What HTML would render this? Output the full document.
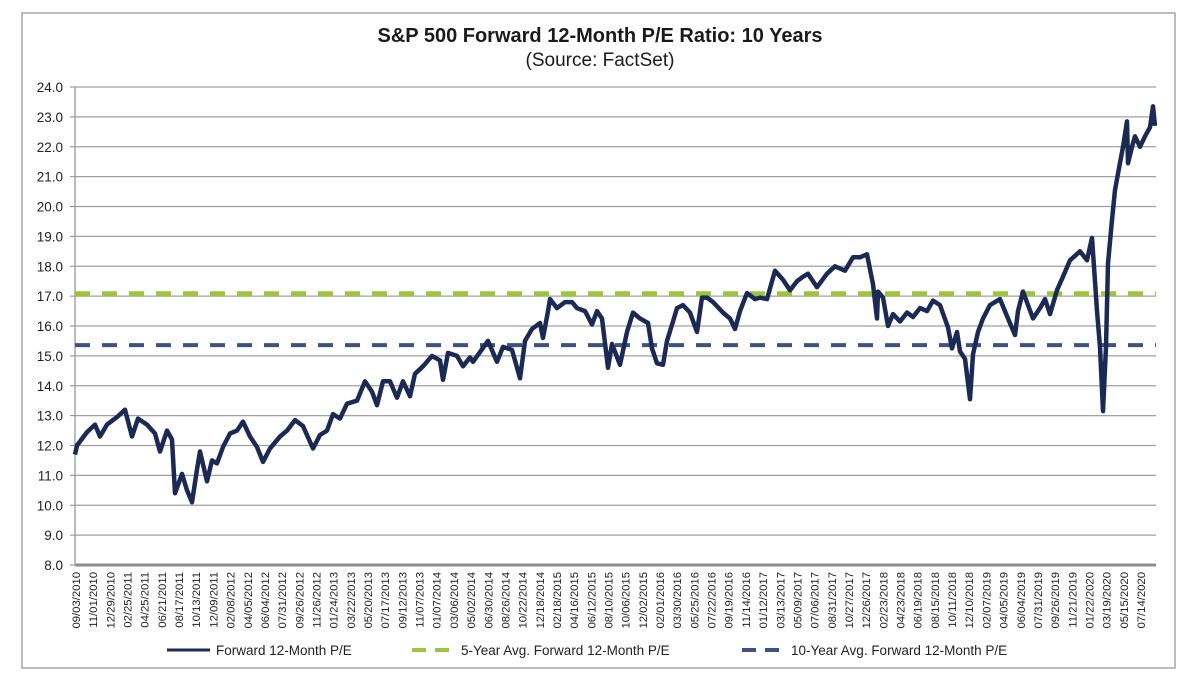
<!DOCTYPE html>
<html><head><meta charset="utf-8"><title>S&amp;P 500 Forward 12-Month P/E Ratio</title>
<style>
html,body{margin:0;padding:0;background:#fff;}
svg{display:block;font-family:"Liberation Sans",Arial,sans-serif;}
</style></head>
<body>
<svg id="chart" width="1200" height="688" viewBox="0 0 1200 688">
  <rect x="22" y="13" width="1153" height="655" fill="#fff" stroke="#a6a6a6" stroke-width="1.5"/>
  <text x="600" y="42" text-anchor="middle" font-size="20" font-weight="bold" fill="#1a1a1a">S&amp;P 500 Forward 12-Month P/E Ratio: 10 Years</text>
  <text x="600" y="66" text-anchor="middle" font-size="19" fill="#1a1a1a">(Source: FactSet)</text>
  <g id="grid"></g>
  <g id="yaxis"></g>
  <g id="xaxis"></g>
  <g id="series"></g>
  <g id="legend"></g>
</svg>
<script>
// ---- data ----
const yTicks = [8,9,10,11,12,13,14,15,16,17,18,19,20,21,22,23,24];
const dateLabels = ["09/03/2010","11/01/2010","12/29/2010","02/25/2011","04/25/2011","06/21/2011","08/17/2011","10/13/2011","12/09/2011","02/08/2012","04/05/2012","06/04/2012","07/31/2012","09/26/2012","11/26/2012","01/24/2013","03/22/2013","05/20/2013","07/17/2013","09/12/2013","11/07/2013","01/07/2014","03/06/2014","05/02/2014","06/30/2014","08/26/2014","10/22/2014","12/18/2014","02/18/2015","04/16/2015","06/12/2015","08/10/2015","10/06/2015","12/02/2015","02/01/2016","03/30/2016","05/25/2016","07/22/2016","09/19/2016","11/14/2016","01/12/2017","03/13/2017","05/09/2017","07/06/2017","08/31/2017","10/27/2017","12/26/2017","02/23/2018","04/23/2018","06/19/2018","08/15/2018","10/11/2018","12/10/2018","02/07/2019","04/05/2019","06/04/2019","07/31/2019","09/26/2019","11/21/2019","01/22/2020","03/19/2020","05/15/2020","07/14/2020"];
// observation index (sample number along the time axis) and forward P/E values
const obsIdx = [0,2,12,20,25,32,42,50,57,63,72,80,85,92,97,100,107,112,117,122,125,132,137,142,148,155,162,168,175,182,188,195,205,212,220,228,238,245,252,258,265,272,282,290,297,302,308,315,322,328,335,340,348,357,365,368,373,382,388,395,398,413,422,428,437,445,450,457,465,468,473,475,482,490,497,502,510,517,522,527,533,537,545,552,558,565,573,577,582,588,592,598,602,608,615,622,627,632,638,648,655,660,665,672,680,685,692,700,708,715,722,728,733,742,752,760,770,778,785,792,798,802,803,808,813,818,825,832,838,845,852,858,865,873,877,882,885,890,895,898,903,908,915,925,933,940,943,948,958,965,970,975,982,988,995,1005,1012,1017,1020,1022,1025,1028,1031,1033,1037,1040,1043,1048,1052,1053,1057,1060,1065,1070,1075,1078,1080];
const peValues = [11.7,12.0,12.45,12.7,12.3,12.7,12.95,13.2,12.3,12.9,12.7,12.4,11.8,12.5,12.2,10.4,11.05,10.5,10.1,11.2,11.8,10.8,11.5,11.4,11.95,12.4,12.5,12.8,12.3,11.95,11.45,11.9,12.3,12.5,12.85,12.65,11.9,12.35,12.5,13.05,12.9,13.4,13.5,14.15,13.8,13.35,14.15,14.15,13.6,14.15,13.65,14.4,14.65,15.0,14.85,14.2,15.1,15.0,14.65,14.95,14.8,15.5,14.8,15.3,15.2,14.25,15.5,15.9,16.1,15.6,16.5,16.9,16.6,16.8,16.8,16.6,16.5,16.05,16.5,16.25,14.6,15.4,14.7,15.8,16.45,16.25,16.1,15.25,14.75,14.7,15.5,16.15,16.6,16.7,16.45,15.8,16.95,16.95,16.8,16.45,16.25,15.9,16.5,17.1,16.9,16.95,16.9,17.85,17.55,17.2,17.5,17.65,17.75,17.3,17.75,18.0,17.85,18.3,18.3,18.4,17.4,16.25,17.15,16.95,16.0,16.4,16.15,16.45,16.3,16.6,16.5,16.85,16.7,15.95,15.25,15.8,15.15,14.9,13.55,15.05,15.8,16.25,16.7,16.9,16.25,15.7,16.5,17.15,16.25,16.6,16.9,16.4,17.2,17.65,18.2,18.5,18.2,18.95,17.5,16.5,15.3,13.15,15.3,18.1,19.55,20.55,21.1,22.0,22.85,21.45,22.0,22.35,22.0,22.35,22.65,23.35,22.7];
const avg5Year = 17.08;
const avg10Year = 15.36;
const seriesNames = ["Forward 12-Month P/E","5-Year Avg. Forward 12-Month P/E","10-Year Avg. Forward 12-Month P/E"];

// ---- layout ----
const NS = "http://www.w3.org/2000/svg";
const plot = {left:75, right:1156, top:87, bottom:565};
const obsMax = 1081;
function xScale(i){ return plot.left + i/obsMax*(plot.right-plot.left); }
function yScale(v){ return plot.bottom - (v-8)/(24-8)*(plot.bottom-plot.top); }
function labelX(k){ return 76 + k*(1141-76)/(dateLabels.length-1); }
function mk(tag, attrs, parent){
  const e = document.createElementNS(NS, tag);
  for (const k in attrs) e.setAttribute(k, attrs[k]);
  parent.appendChild(e);
  return e;
}
const grid = document.getElementById('grid');
const yaxis = document.getElementById('yaxis');
const xaxis = document.getElementById('xaxis');
const series = document.getElementById('series');
const legend = document.getElementById('legend');

yTicks.forEach(t => {
  const y = yScale(t);
  if (t > 8) {
    const ln = mk('line', {x1:plot.left, x2:plot.right, y1:y, y2:y, stroke:'#a0a0a0', 'stroke-width':1.3}, grid);
    
    
  }
  const tk = mk('line', {x1:plot.left-5, x2:plot.left, y1:y, y2:y, stroke:'#888', 'stroke-width':1}, yaxis);
  
  
  const tx = mk('text', {x:63, y:y+5, 'text-anchor':'end', 'font-size':13.5, fill:'#222'}, yaxis);
  tx.textContent = t.toFixed(1);
  
  
});
const yl = mk('line', {x1:plot.left, x2:plot.left, y1:plot.top, y2:plot.bottom, stroke:'#999', 'stroke-width':1.3}, yaxis);


const xl = mk('line', {x1:plot.left, x2:plot.right, y1:plot.bottom, y2:plot.bottom, stroke:'#8c8c8c', 'stroke-width':3}, xaxis);



dateLabels.forEach((d, k) => {
  const x = labelX(k);
  const tx = mk('text', {x:0, y:0, 'text-anchor':'end', 'font-size':11.3, fill:'#222', transform:`translate(${x+4},${572}) rotate(-90)`}, xaxis);
  tx.textContent = d;
  
  
});

// average lines
const g5 = mk('line', {x1:plot.left, x2:plot.right, y1:yScale(avg5Year), y2:yScale(avg5Year), stroke:'#9cc43c', 'stroke-width':5, 'stroke-dasharray':'15 12'}, series);


const g10 = mk('line', {x1:plot.left, x2:plot.right, y1:yScale(avg10Year), y2:yScale(avg10Year), stroke:'#3d5184', 'stroke-width':4, 'stroke-dasharray':'15 12'}, series);



// main series
const n = Math.min(obsIdx.length, peValues.length);
let dstr = '';
for (let i = 0; i < n; i++) dstr += (i ? 'L' : 'M') + xScale(obsIdx[i]).toFixed(1) + ' ' + yScale(peValues[i]).toFixed(1);
const p = mk('path', {d:dstr, fill:'none', stroke:'#1b2a55', 'stroke-width':4.5, 'stroke-linejoin':'round'}, series);



// legend
const legY = 650;
const l1 = mk('line', {x1:167, x2:210, y1:legY, y2:legY, stroke:'#1b2a55', 'stroke-width':3}, legend);


const t1 = mk('text', {x:216, y:legY+5, 'font-size':13.5, fill:'#222'}, legend);
t1.textContent = seriesNames[0];


const l2 = mk('line', {x1:412, x2:455, y1:legY, y2:legY, stroke:'#9cc43c', 'stroke-width':4, 'stroke-dasharray':'14 9'}, legend);


const t2 = mk('text', {x:461, y:legY+5, 'font-size':13.5, fill:'#222'}, legend);
t2.textContent = seriesNames[1];


const l3 = mk('line', {x1:742, x2:785, y1:legY, y2:legY, stroke:'#3d5184', 'stroke-width':4, 'stroke-dasharray':'14 9'}, legend);


const t3 = mk('text', {x:791, y:legY+5, 'font-size':13.5, fill:'#222'}, legend);
t3.textContent = seriesNames[2];


</script>
</body></html>
